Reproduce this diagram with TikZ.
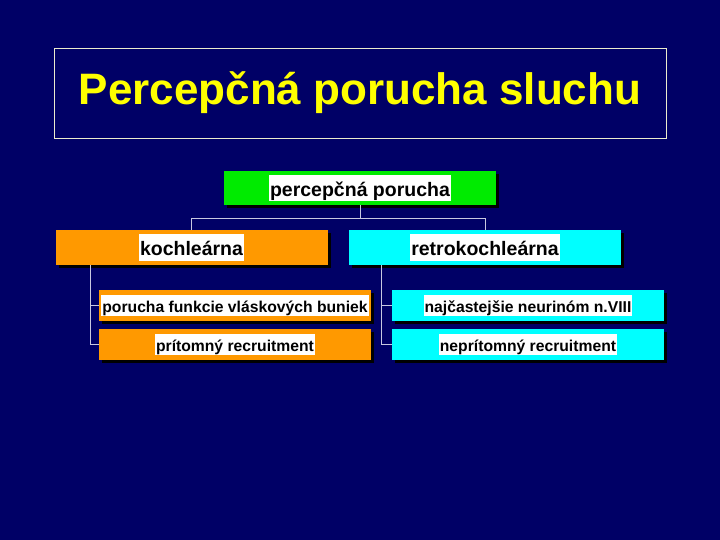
\documentclass[tikz,border=0pt]{standalone}
\usepackage{fontspec}
\setmainfont{Liberation Sans}
\usetikzlibrary{shadows}
\definecolor{slidebg}{RGB}{0,0,102}
\definecolor{titlefg}{RGB}{255,255,0}
\definecolor{framecol}{RGB}{235,235,205}
\definecolor{linecol}{RGB}{200,200,225}
\definecolor{boxgreen}{RGB}{0,235,0}
\definecolor{boxorange}{RGB}{255,153,0}
\definecolor{boxcyan}{RGB}{0,255,255}
\newcommand{\hltext}[1]{{\setlength{\fboxsep}{0pt}\colorbox{white}{\rule[-0.27em]{0pt}{1.38em}\hspace{1pt}#1\hspace{1pt}}}}
\tikzset{
  box/.style={inner sep=0pt, text=black, font=\bfseries,
    drop shadow={shadow xshift=3pt, shadow yshift=-3pt, fill=black, opacity=1}},
  topbox/.style={box, minimum width=272pt, minimum height=34pt, font=\bfseries\fontsize{19.5}{20}\selectfont},
  subbox/.style={box, minimum width=272pt, minimum height=31pt, font=\bfseries\fontsize{15.7}{16}\selectfont},
  tree/.style={draw=linecol, line width=0.9pt}
}

\begin{document}
\begin{tikzpicture}[x=1pt, y=-1pt]
        \fill[slidebg] (0,0) rectangle (720,540);
        \useasboundingbox (0,0) rectangle (720,540);

        \node (T) at (360,93) [draw=framecol, line width=0.8pt, minimum width=612pt, minimum height=90pt, inner sep=0pt,
                text=titlefg, font=\bfseries\fontsize{44}{48}\selectfont] {Percepčná porucha sluchu};

        \node (P) at (360,188) [topbox, fill=boxgreen] {\hltext{percepčná porucha}};
        \node (K) at (191.5,247.5) [topbox, minimum height=35pt, fill=boxorange] {\hltext{kochleárna}};
        \node (R) at (485,247.5) [topbox, minimum height=35pt, fill=boxcyan] {\hltext{retrokochleárna}};

        \node (K1) at (235,305.5) [subbox, fill=boxorange] {\hltext{porucha funkcie vláskových buniek}};
        \node (K2) at (235,344.5) [subbox, fill=boxorange] {\hltext{prítomný recruitment}};
        \node (R1) at (528,305.5) [subbox, fill=boxcyan] {\hltext{najčastejšie neurinóm n.VIII}};
        \node (R2) at (528,344.5) [subbox, fill=boxcyan] {\hltext{neprítomný recruitment}};

        \coordinate (split) at ([yshift=-13pt]P.south);
        \draw[tree] (P.south) -- (split) -| (K.north);
        \draw[tree] (split) -| (R.north);

        \draw[tree] ([xshift=35pt]K.south west) |- (K1.west);
        \draw[tree] ([xshift=35pt]K.south west) |- (K2.west);
        \draw[tree] ([xshift=33pt]R.south west) |- (R1.west);
        \draw[tree] ([xshift=33pt]R.south west) |- (R2.west);
    \end{tikzpicture}
\end{document}
